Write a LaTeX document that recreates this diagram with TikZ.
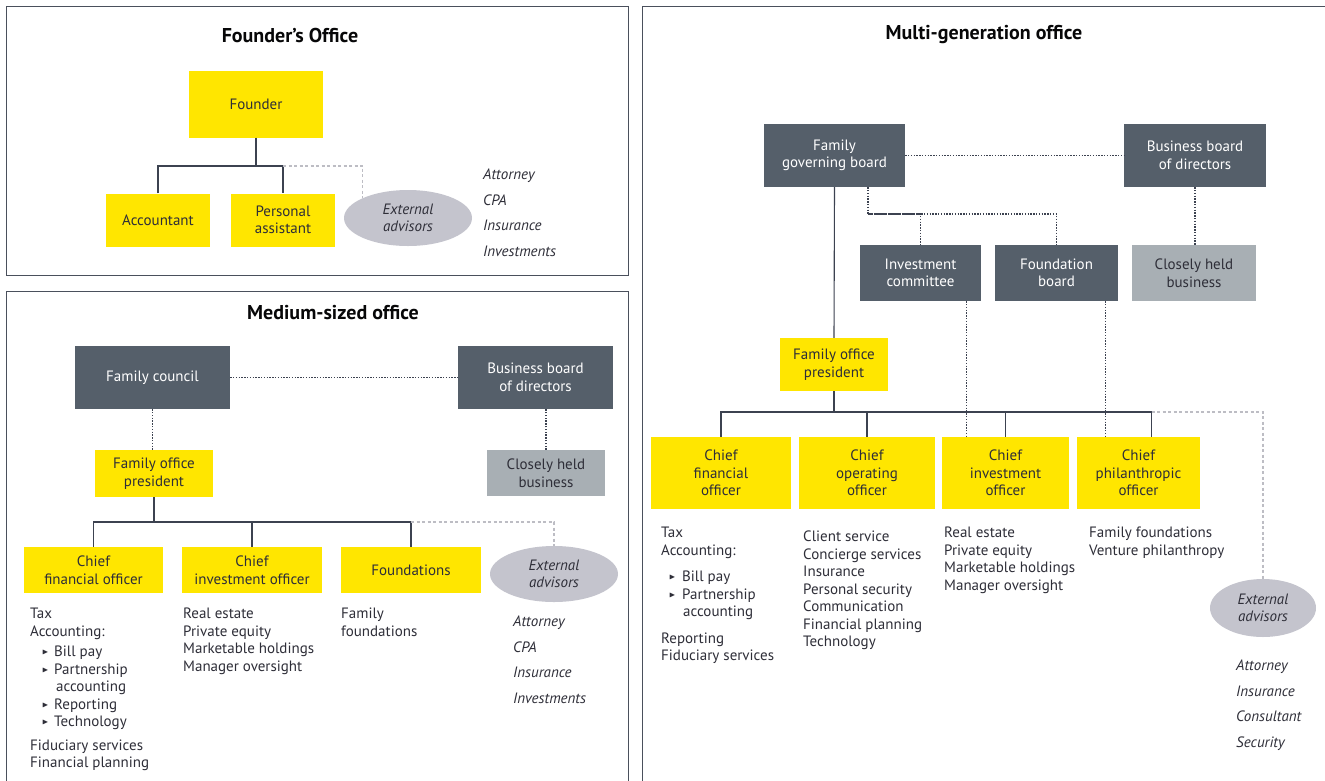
\documentclass[tikz,border=0pt]{standalone}
\usepackage{fontspec}
\setmainfont{PT Sans}
\usepackage{amssymb}
\usepackage{graphicx}
\usetikzlibrary{shapes.geometric}
\definecolor{eyyellow}{HTML}{FFE600}
\definecolor{eydark}{HTML}{555F6A}
\definecolor{eylight}{HTML}{A8AFB4}
\definecolor{eyell}{HTML}{C4C4CD}
\definecolor{eytext}{HTML}{2E2E38}
\definecolor{eyline}{HTML}{3C4250}
\definecolor{eygdash}{HTML}{BDBDC4}
\definecolor{eyframe}{HTML}{4A505C}
\newcommand{\bul}{\raisebox{2pt}{\scalebox{0.55}{$\blacktriangleright$}}}
\newcommand{\bitem}[3]{\hspace*{#1}\makebox[#2][l]{\bul}#3}
\begin{document}
\begin{tikzpicture}[x=1pt,y=-1pt,
  font=\fontsize{15}{17.5}\selectfont, text=eytext,
  panel/.style={draw=eyframe, line width=0.9pt},
  ttl/.style={font=\fontsize{20}{22}\selectfont\bfseries, text=black!85!eytext},
  ybox/.style={fill=eyyellow, text=eytext, align=center, inner sep=1pt},
  dbox/.style={fill=eydark, text=white, align=center, inner sep=1pt},
  lbox/.style={fill=eylight, text=eytext, align=center, inner sep=1pt},
  advel/.style={ellipse, fill=eyell, text=eytext, align=center, inner sep=0pt, font=\fontsize{15}{17.5}\selectfont\itshape},
  lst/.style={anchor=north west, align=left, inner sep=0pt},
  advlst/.style={anchor=north west, align=left, inner sep=0pt, font=\fontsize{15}{25.5}\selectfont\itshape},
  sol/.style={draw=eyline, line width=1.1pt},
  dot/.style={draw=eyline, line width=1.3pt, dash pattern=on 1.4pt off 1.4pt},
  gdash/.style={draw=eygdash, line width=1.3pt, dash pattern=on 3pt off 2.5pt}
]
\useasboundingbox (0,0) rectangle (1325,780);
\fill[white] (0,0) rectangle (1325,780);
% panels
\draw[panel] (6,6) rectangle (628,275);
\draw[panel] (6,291) rectangle (628,795);
\draw[panel] (642,6) rectangle (1335,795);

% ===== Founder's office =====
\node[ttl] (t1) at (290,35) {Founder’s Office};
\node[ybox, minimum width=134pt, minimum height=67pt] (founder) at (256,104) {Founder};
\node[ybox, minimum width=104pt, minimum height=53pt] (acct) at (158,220) {Accountant};
\node[ybox, minimum width=104pt, minimum height=53pt] (pa) at (283,220) {Personal\\assistant};
\node[advel, minimum width=128pt, minimum height=56pt] (fadv) at (408,218) {External\\advisors};
\node[advlst] (fadvl) at (483,169) {Attorney\\CPA\\Insurance\\Investments};
\coordinate (fj) at (256,166);
\draw[sol] (founder.south) -- (fj);
\draw[sol] (acct.north) |- (fj) -| (pa.north);
\draw[gdash] (pa.north |- fj) -| (fadv.north west);

% ===== Medium-sized office =====
\node[ttl] (t2) at (333,313) {Medium-sized office};
\node[dbox, minimum width=155pt, minimum height=63pt] (fc) at (152.5,377.5) {Family council};
\node[dbox, minimum width=155pt, minimum height=63pt] (mbb) at (535.5,377.5) {Business board\\of directors};
\node[ybox, minimum width=118pt, minimum height=47pt] (mfop) at (154,473.5) {Family office\\president};
\node[lbox, minimum width=118pt, minimum height=46pt] (mch) at (546,473) {Closely held\\business};
\node[ybox, minimum width=139pt, minimum height=46pt] (mcfo) at (93.5,570) {Chief\\financial officer};
\node[ybox, minimum width=140pt, minimum height=46pt] (mcio) at (252,570) {Chief\\investment officer};
\node[ybox, minimum width=140pt, minimum height=46pt] (mfnd) at (411,570) {Foundations};
\node[advel, minimum width=128pt, minimum height=56pt] (madv) at (554,574) {External\\advisors};

\node[lst, font=\fontsize{15}{17.5}\selectfont] (mcfol) at (30,608)
  {Tax\\Accounting:\\[3pt]\bitem{12pt}{12pt}{Bill pay}\\\bitem{12pt}{12pt}{Partnership}\\\hspace*{26pt}accounting\\\bitem{12pt}{12pt}{Reporting}\\\bitem{12pt}{12pt}{Technology}\\[6pt]Fiduciary services\\Financial planning};
\node[lst] (mciol) at (183,608) {Real estate\\Private equity\\Marketable holdings\\Manager oversight};
\node[lst] (mfndl) at (341,608) {Family\\foundations};
\node[advlst] (madvl) at (513,616) {Attorney\\CPA\\Insurance\\Investments};

\draw[dot] (fc.east) -- (mbb.west);
\draw[dot] (fc.south) -- (fc.south |- mfop.north);
\draw[dot] (mch.north) -- (mch.north |- mbb.south);
\coordinate (mj) at (154,522);
\draw[sol] (mfop.south) -- (mj);
\draw[sol] (mcfo.north) |- (mj) -| (mfnd.north);
\draw[sol] (mcio.north) -- (mcio.north |- mj);
\draw[gdash] (mfnd.north |- mj) -| (madv.north);

% ===== Multi-generation office =====
\node[ttl] (t3) at (984,35) {Multi-generation office};
\node[dbox, minimum width=141pt, minimum height=63pt] (fgb) at (834.5,155.5) {Family\\governing board};
\node[dbox, minimum width=142pt, minimum height=63pt] (gbb) at (1195,155.5) {Business board\\of directors};
\node[dbox, minimum width=121pt, minimum height=56pt] (ic) at (920.5,273) {Investment\\committee};
\node[dbox, minimum width=123pt, minimum height=56pt] (fbd) at (1056.5,273) {Foundation\\board};
\node[lbox, minimum width=124pt, minimum height=56pt] (gch) at (1194,273) {Closely held\\business};
\node[ybox, minimum width=108pt, minimum height=53pt] (gfop) at (834,364.5) {Family office\\president};
\node[ybox, minimum width=140pt, minimum height=72pt] (gcfo) at (721,473) {Chief\\financial\\officer};
\node[ybox, minimum width=136pt, minimum height=72pt] (gcoo) at (867,473) {Chief\\operating\\officer};
\node[ybox, minimum width=127pt, minimum height=72pt] (gcio) at (1005.5,473) {Chief\\investment\\officer};
\node[ybox, minimum width=123pt, minimum height=72pt] (gcpo) at (1138.5,473) {Chief\\philanthropic\\officer};
\node[advel, minimum width=106pt, minimum height=58pt] (gadv) at (1263,608) {External\\advisors};

\node[lst] (gcfol) at (661,527)
  {Tax\\Accounting:\\[9pt]\bitem{8pt}{13pt}{Bill pay}\\\bitem{8pt}{13pt}{Partnership}\\\hspace*{22pt}accounting\\[9pt]Reporting\\Fiduciary services};
\node[lst] (gcool) at (803,531) {Client service\\Concierge services\\Insurance\\Personal security\\Communication\\Financial planning\\Technology};
\node[lst] (gciol) at (944,527) {Real estate\\Private equity\\Marketable holdings\\Manager oversight};
\node[lst] (gcpol) at (1089,527) {Family foundations\\Venture philanthropy};
\node[advlst] (gadvl) at (1236,660) {Attorney\\Insurance\\Consultant\\Security};

\coordinate (gj) at (868,214);
\draw[dot] (fgb.east) -- (gbb.west);
\draw[dot] (fgb.south -| gj) -- (gj) -| (ic.north);
\draw[dot] (gj) -| (fbd.north);
\draw[dot] (gbb.south) -- (gbb.south |- gch.north);
\draw[sol] (fgb.south) -- (gfop.north);
\coordinate (tj) at (834,412);
\draw[sol] (gfop.south) -- (tj);
\draw[sol] (gcfo.north) |- (tj) -| ([xshift=13pt]gcpo.north);
\draw[sol] (gcoo.north) -- (gcoo.north |- tj);
\draw[sol] (gcio.north) -- (gcio.north |- tj);
\draw[dot] ([xshift=-15pt]ic.south east) -- ([xshift=-15pt]ic.south east |- gcio.north);
\draw[dot] ([xshift=-13pt]fbd.south east) -- ([xshift=-13pt]fbd.south east |- gcpo.north);
\draw[gdash] ([xshift=13pt]gcpo.north |- tj) -| (gadv.north);
\end{tikzpicture}
\end{document}
